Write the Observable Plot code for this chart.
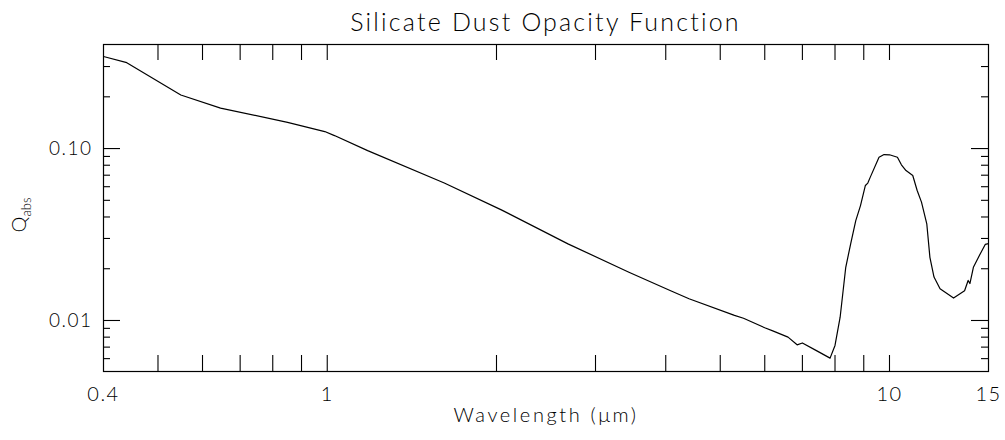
<!DOCTYPE html>
<html><head><meta charset="utf-8">
<script src="https://cdn.jsdelivr.net/npm/d3@7"></script>
<script src="https://cdn.jsdelivr.net/npm/@observablehq/plot@0.6"></script>
<style>
body{margin:0;background:#fff;}
#title{box-sizing:border-box;height:40px;width:1005px;padding-left:103px;padding-right:17px;text-align:center;
  font-family:Lato,"DejaVu Sans",sans-serif;font-weight:300;font-size:25px;line-height:25px;padding-top:9px;letter-spacing:2.2px;color:#000;}
</style></head><body>
<div id="title">Silicate Dust Opacity Function</div>
<div id="chart"></div>
<script>
const wavelength = [0.40,0.44,0.549,0.646,0.85,0.99,1.03,1.18,1.615,2.04,2.68,3.44,4.1,4.4,5.3,5.5,6.0,6.2,6.6,6.85,7.0,7.4,7.84,8.0,8.17,8.36,8.53,8.71,8.88,9.06,9.15,9.24,9.58,9.78,10.0,10.33,10.5,10.7,11.0,11.2,11.4,11.65,11.8,12.0,12.3,13.0,13.6,13.8,13.9,14.1,14.45,14.8,15.0];
const qabs = [0.343,0.316,0.205,0.172,0.142,0.1256,0.119,0.0973,0.063,0.044,0.0279,0.0191,0.0148,0.01337,0.0107,0.0103,0.00907,0.0087,0.0080,0.00722,0.0074,0.0067,0.00604,0.00716,0.01045,0.0204,0.0279,0.0381,0.0466,0.061,0.063,0.068,0.089,0.0923,0.092,0.089,0.0805,0.0745,0.0697,0.057,0.0488,0.0365,0.0233,0.0179,0.0153,0.0135,0.0149,0.0171,0.0164,0.0204,0.0239,0.0277,0.028];
const xTickValues = [0.5,0.6,0.7,0.8,0.9,1,2,3,4,5,6,7,8,9,10];
const xTickLabels = [0.4,1,10,15];
const yMajorTicks = [0.01,0.1];
const yMinorTicks = [0.006,0.007,0.008,0.009,0.02,0.03,0.04,0.05,0.06,0.07,0.08,0.09,0.2,0.3];
const titleText = "Silicate Dust Opacity Function";
const xLabel = "Wavelength (μm)";

const data = wavelength.map((w,i)=>({w, q: qabs[i]}));
const W = 1005, H = 400, mT = 4, mB = 69, mL = 103, mR = 17;
const fh = H - mT - mB, fw = W - mL - mR;
const font = 'Lato, "DejaVu Sans", sans-serif';

const chart = Plot.plot({
  width: W, height: H, marginTop: mT, marginBottom: mB, marginLeft: mL, marginRight: mR,
  style: {fontFamily: font, fontSize: "19px", fontWeight: 300, color: "#000", background: "#fff"},
  x: {type: "log", domain: [0.4, 15]},
  y: {type: "log", domain: [0.00505, 0.403]},
  marks: [
    Plot.frame({stroke: "#000", strokeWidth: 1.2}),
    Plot.tickX(xTickValues, {x: d=>d, insetTop: fh-16, stroke: "#000", strokeWidth: 1.1}),
    Plot.tickX(xTickValues, {x: d=>d, insetBottom: fh-16, stroke: "#000", strokeWidth: 1.1}),
    Plot.tickY(yMajorTicks, {y: d=>d, insetRight: fw-17, stroke: "#000", strokeWidth: 1.1}),
    Plot.tickY(yMajorTicks, {y: d=>d, insetLeft: fw-17, stroke: "#000", strokeWidth: 1.1}),
    Plot.tickY(yMinorTicks, {y: d=>d, insetRight: fw-7, stroke: "#000", strokeWidth: 1.1}),
    Plot.tickY(yMinorTicks, {y: d=>d, insetLeft: fw-7, stroke: "#000", strokeWidth: 1.1}),
    Plot.axisX({ticks: xTickLabels, tickSize: 0, tickPadding: 15, tickFormat: d=>String(d), label: null, fontSize: 20}),
    Plot.axisY({ticks: yMajorTicks, tickSize: 0, tickPadding: 11, tickFormat: d=>d.toFixed(2), label: null, fontSize: 19}),
    Plot.line(data, {x: "w", y: "q", stroke: "#000", strokeWidth: 1.2}),
    Plot.text([xLabel], {text: d=>d, frameAnchor: "bottom", dy: 50, fontSize: 20})
  ]
});
document.getElementById("chart").appendChild(chart);

const svg = d3.select(chart);
svg.selectAll('g[aria-label="text"] text').style("letter-spacing", "2.6px");
svg.selectAll('g[aria-label="x-axis tick label"] text, g[aria-label="y-axis tick label"] text').style("letter-spacing", "1.5px");

// Y-axis label Q_abs with subscript
const t = svg.append("text")
  .attr("transform", "translate(26,175) rotate(-90)")
  .attr("text-anchor", "middle")
  .attr("font-family", font).attr("font-weight", 300).attr("font-size", 20).attr("fill", "#000");
t.append("tspan").text("Q");
t.append("tspan").attr("font-size", 13).attr("dy", 5).text("abs");
</script>
</body></html>
